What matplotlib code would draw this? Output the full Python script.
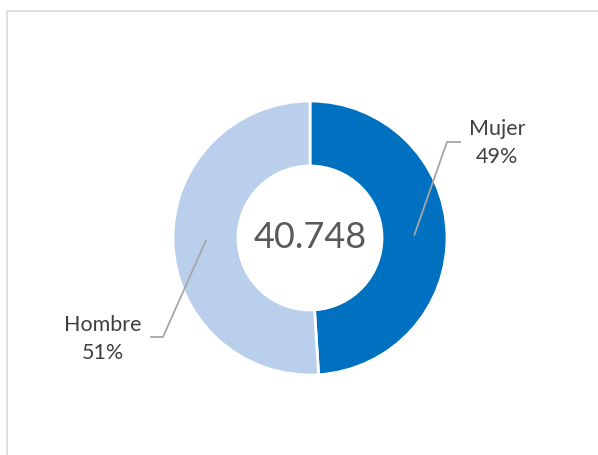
import numpy as np
import matplotlib
matplotlib.use("Agg")
import matplotlib.pyplot as plt

categories = ["Mujer", "Hombre"]
shares = [49, 51]
total_label = "40.748"
colors = ["#0070C0", "#BACFEC"]

W, H = 598, 455
fig = plt.figure(figsize=(W / 100, H / 100), dpi=100)
ax = fig.add_axes([0, 0, 1, 1])

# chart frame
ax.plot([6.5, 6.5, W], [0, H - 10.5, H - 10.5], color="#D9D9D9", lw=1.2)

cx, cy = 310, H - 238
R, r = 137, 72
wedges, _ = ax.pie(shares, colors=colors, startangle=90, counterclock=False,
                   center=(cx, cy), radius=R, frame=True,
                   wedgeprops=dict(width=R - r, edgecolor="white", linewidth=2))
ax.set_xlim(0, W)
ax.set_ylim(0, H)
ax.set_aspect("equal")
ax.axis("off")

ax.text(cx, cy + 1, total_label, ha="center", va="center", fontsize=26,
        color="#595959", family="Lato")

font = dict(fontsize=15.5, color="#404040", family="Lato", ha="center", va="center")
rm = (R + r) / 2
# Mujer label
w = wedges[0]
ang = np.deg2rad((w.theta1 + w.theta2) / 2)
p0 = (cx + rm * np.cos(ang), cy + rm * np.sin(ang))
ax.plot([p0[0], 447, 460], [p0[1], H - 142, H - 142], color="#A6A6A6", lw=1.3)
ax.text(497, H - 129, f"{categories[0]}", **font)
ax.text(497, H - 157, f"{shares[0]}%", **font)
# Hombre label
w = wedges[1]
ang = np.deg2rad((w.theta1 + w.theta2) / 2)
p0 = (cx + rm * np.cos(ang), cy + rm * np.sin(ang))
ax.plot([p0[0], 163, 151], [p0[1], H - 337, H - 337], color="#A6A6A6", lw=1.3)
ax.text(103, H - 325, f"{categories[1]}", **font)
ax.text(103, H - 353, f"{shares[1]}%", **font)

fig.savefig("out.png", dpi=100)
